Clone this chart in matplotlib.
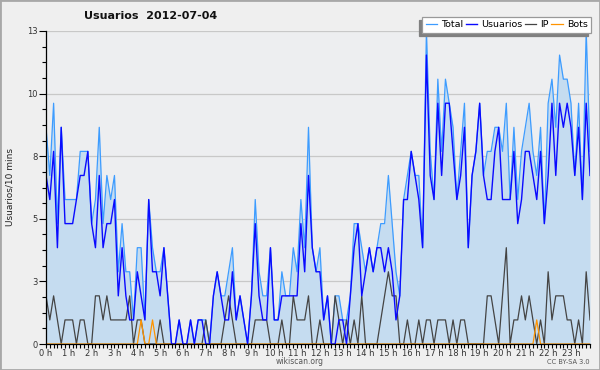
import matplotlib
matplotlib.use("Agg")
import matplotlib.pyplot as plt
import numpy as np
from matplotlib.patches import Rectangle

# users per 10 minutes, 2012-07-04 (144 slots, one row = 2 hours)
total = [9, 7, 10, 5, 9, 6, 6, 6, 6, 8, 8, 8,
         5, 6, 9, 5, 7, 6, 7, 3, 5, 3, 3, 1,
         4, 4, 1, 6, 4, 3, 3, 4, 2, 0, 0, 1,
         0, 0, 1, 0, 1, 1, 1, 0, 2, 3, 2, 2,
         3, 4, 1, 2, 1, 0, 2, 6, 3, 2, 2, 4,
         1, 1, 3, 2, 2, 4, 3, 6, 4, 9, 4, 3,
         4, 1, 2, 0, 2, 2, 1, 1, 2, 5, 5, 4,
         3, 4, 3, 4, 5, 5, 7, 5, 3, 2, 6, 7,
         8, 7, 7, 4, 13, 8, 6, 11, 8, 11, 10, 9,
         6, 8, 10, 4, 7, 8, 10, 7, 8, 8, 9, 9,
         8, 10, 6, 9, 6, 8, 9, 10, 8, 7, 9, 5,
         10, 11, 9, 12, 11, 11, 10, 7, 10, 6, 13, 8]
usuarios = [7, 6, 8, 4, 9, 5, 5, 5, 6, 7, 7, 8,
            5, 4, 7, 4, 5, 5, 6, 2, 4, 2, 1, 1,
            3, 2, 1, 6, 3, 3, 2, 4, 2, 0, 0, 1,
            0, 0, 1, 0, 1, 1, 0, 0, 2, 3, 2, 1,
            1, 3, 1, 2, 1, 0, 2, 5, 2, 1, 1, 4,
            1, 1, 2, 2, 2, 2, 2, 5, 3, 7, 4, 3,
            3, 1, 2, 0, 0, 1, 1, 0, 2, 4, 5, 2,
            3, 4, 3, 4, 4, 3, 4, 3, 1, 2, 6, 6,
            8, 7, 6, 4, 12, 7, 6, 10, 7, 10, 10, 8,
            6, 7, 9, 4, 7, 8, 10, 7, 6, 6, 8, 9,
            6, 6, 6, 8, 5, 6, 8, 8, 7, 6, 8, 5,
            7, 10, 7, 10, 9, 10, 9, 7, 9, 6, 10, 7]
ip = [2, 1, 2, 1, 0, 1, 1, 1, 0, 1, 1, 0,
      0, 2, 2, 1, 2, 1, 1, 1, 1, 1, 2, 0,
      1, 1, 0, 0, 0, 0, 1, 0, 0, 0, 0, 0,
      0, 0, 0, 0, 0, 0, 1, 0, 0, 0, 0, 1,
      2, 1, 0, 0, 0, 0, 0, 1, 1, 1, 1, 0,
      0, 0, 1, 0, 0, 2, 1, 1, 1, 2, 0, 0,
      1, 0, 0, 0, 2, 1, 0, 1, 0, 1, 0, 2,
      0, 0, 0, 0, 1, 2, 3, 2, 2, 0, 0, 1,
      0, 0, 1, 0, 1, 1, 0, 1, 1, 1, 0, 1,
      0, 1, 1, 0, 0, 0, 0, 0, 2, 2, 1, 0,
      2, 4, 0, 1, 1, 2, 1, 2, 1, 0, 1, 0,
      3, 1, 2, 2, 2, 1, 1, 0, 1, 0, 3, 1]
bots = [0, 0, 0, 0, 0, 0, 0, 0, 0, 0, 0, 0,
        0, 0, 0, 0, 0, 0, 0, 0, 0, 0, 0, 0,
        0, 1, 0, 0, 1, 0, 0, 0, 0, 0, 0, 0,
        0, 0, 0, 0, 0, 0, 0, 0, 0, 0, 0, 0,
        0, 0, 0, 0, 0, 0, 0, 0, 0, 0, 0, 0,
        0, 0, 0, 0, 0, 0, 0, 0, 0, 0, 0, 0,
        0, 0, 0, 0, 0, 0, 0, 0, 0, 0, 0, 0,
        0, 0, 0, 0, 0, 0, 0, 0, 0, 0, 0, 0,
        0, 0, 0, 0, 0, 0, 0, 0, 0, 0, 0, 0,
        0, 0, 0, 0, 0, 0, 0, 0, 0, 0, 0, 0,
        0, 0, 0, 0, 0, 0, 0, 0, 0, 1, 0, 0,
        0, 0, 0, 0, 0, 0, 0, 0, 0, 0, 0, 0]
hours = list(range(24))
hour_labels = [f"{h} h" for h in hours]
ytick_vals = [0, 2.6, 5.2, 7.8, 10.4, 13]
ytick_labels = ["0", "3", "5", "8", "10", "13"]

W, H = 600, 370
fig = plt.figure(figsize=(W / 100, H / 100), dpi=100, facecolor="#efefef")
ax = fig.add_axes([46 / W, 1 - 344 / H, 544 / W, 313 / H])
ax.set_facecolor("#edeef0")

x = np.arange(len(total))
ax.fill_between(x, 0, total, color="#c5dcf0", lw=0, zorder=1)
ax.plot(x, total, color="#3d9cff", lw=0.9, label="Total", zorder=3)
ax.plot(x, ip, color="#444444", lw=0.9, label="IP", zorder=4)
ax.plot(x, bots, color="#ff9400", lw=0.9, label="Bots", zorder=5)
ax.plot(x, usuarios, color="#0a0aff", lw=1.0, label="Usuarios", zorder=6)

ax.set_xlim(0, len(total) - 1)
ax.set_ylim(0, 13)
ax.set_yticks(ytick_vals)
ax.set_yticklabels(ytick_labels)
ax.set_yticks(np.arange(0, 13.01, 0.65), minor=True)
ax.set_xticks([h * 6 for h in hours])
ax.set_xticklabels(hour_labels)
ax.set_xticks(x, minor=True)
ax.grid(axis="y", color="#c8c8c8", lw=0.9, zorder=0)
ax.set_axisbelow(True)

for s in ["top", "right"]:
    ax.spines[s].set_visible(False)
for s in ["left", "bottom"]:
    ax.spines[s].set_color("black")
    ax.spines[s].set_linewidth(0.9)
    ax.spines[s].set_zorder(7)

ax.tick_params(axis="y", which="major", length=5, width=0.8, pad=1,
               labelsize=6, labelcolor="#333333")
ax.tick_params(axis="y", which="minor", length=3, width=0.8)
ax.tick_params(axis="x", which="major", length=3, width=0.8, pad=0.5,
               labelsize=6, labelcolor="#333333")
ax.tick_params(axis="x", which="minor", length=3, width=0.8)

fig.text(151 / W, 1 - 16 / H, "Usuarios  2012-07-04", ha="center", va="center",
         fontsize=8, fontweight="bold", color="#111111")
fig.text(10 / W, 1 - 187 / H, "Usuarios/10 mins", rotation=90, ha="center",
         va="center", fontsize=6.5, color="#222222")
fig.text(300 / W, 1 - 361 / H, "wikiscan.org", ha="center", va="center",
         fontsize=5.5, color="#555555")
fig.text(590 / W, 1 - 362 / H, "CC BY-SA 3.0", ha="right", va="center",
         fontsize=4.8, color="#555555")

handles, labels = ax.get_legend_handles_labels()
order = [labels.index(n) for n in ["Total", "Usuarios", "IP", "Bots"]]
leg = fig.legend([handles[i] for i in order], [labels[i] for i in order],
                 loc="upper right", bbox_to_anchor=(591 / W, 1 - 17 / H),
                 ncol=4, fontsize=6.8, frameon=True, fancybox=False,
                 framealpha=1, edgecolor="#999999", borderpad=0.35,
                 handlelength=1.2, handletextpad=0.45, columnspacing=0.25,
                 borderaxespad=0,
                 shadow={"ox": -2.2, "oy": -2.2, "color": "#808080", "alpha": 1})
leg.get_frame().set_linewidth(0.9)
leg.set_zorder(10)

fig.patches.append(Rectangle((0, 0), 1, 1, transform=fig.transFigure, fill=False,
                             edgecolor="#a8a8a8", lw=2))

fig.savefig("out.png", dpi=100, facecolor=fig.get_facecolor())
